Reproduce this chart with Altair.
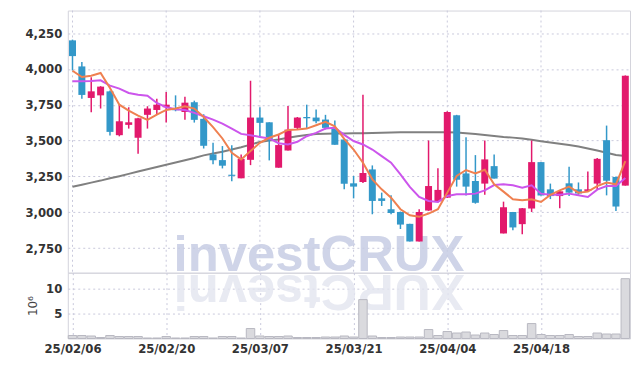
import altair as alt
import pandas as pd

# ---- data ----
dates = ["25/02/06","25/02/07","25/02/10","25/02/11","25/02/12","25/02/13","25/02/14","25/02/17","25/02/18","25/02/19",
         "25/02/20","25/02/21","25/02/24","25/02/25","25/02/26","25/02/27","25/02/28","25/03/04","25/03/05","25/03/06",
         "25/03/07","25/03/10","25/03/11","25/03/12","25/03/13","25/03/14","25/03/17","25/03/18","25/03/19","25/03/20",
         "25/03/21","25/03/24","25/03/25","25/03/26","25/03/27","25/03/28","25/03/31","25/04/01","25/04/02","25/04/03",
         "25/04/04","25/04/07","25/04/08","25/04/09","25/04/10","25/04/11","25/04/14","25/04/15","25/04/16","25/04/17",
         "25/04/18","25/04/21","25/04/22","25/04/23","25/04/24","25/04/25","25/04/28","25/04/29","25/04/30","25/05/02"]

open_ = [4200, 4018, 3798, 3816, 3844, 3538, 3610, 3520, 3680, 3714,
         3733, 3724, 3700, 3768, 3652, 3404, 3364, 3262, 3237, 3366,
         3661, 3628, 3311, 3431, 3589, 3665, 3661, 3647, 3582, 3508,
         3202, 3211, 3299, 3097, 3021, 3002, 2919, 2796, 3012, 3077,
         3102, 3677, 3271, 3218, 3200, 3322, 2852, 3002, 2917, 3026,
         3350, 3160, 3113, 3202, 3160, 3149, 3200, 3503, 3246, 3186]
high = [4205, 4048, 3942, 3880, 3850, 3750, 3733, 3660, 3740, 3793,
        3840, 3816, 3807, 3779, 3684, 3485, 3462, 3468, 3404, 3918,
        3733, 3628, 3547, 3742, 3665, 3751, 3717, 3680, 3640, 3510,
        3253, 3821, 3327, 3137, 3118, 3005, 2919, 3021, 3501, 3308,
        3705, 3680, 3524, 3399, 3501, 3404, 3074, 3002, 3030, 3501,
        3350, 3200, 3150, 3317, 3208, 3285, 3378, 3605, 3250, 3955]
low = [3990, 3793, 3698, 3724, 3536, 3530, 3584, 3408, 3584, 3683,
       3626, 3705, 3645, 3626, 3445, 3335, 3306, 3216, 3237, 3329,
       3524, 3362, 3311, 3431, 3580, 3589, 3621, 3578, 3471, 3160,
       3097, 3204, 2986, 3044, 2986, 2883, 2796, 2796, 3010, 3070,
       3100, 3179, 3117, 3060, 3122, 3235, 2852, 2875, 2847, 3002,
       3117, 3092, 3028, 3113, 3122, 3145, 3155, 3118, 3009, 3186]
close = [4090, 3819, 3844, 3877, 3561, 3635, 3628, 3656, 3724, 3751,
         3751, 3712, 3765, 3645, 3464, 3363, 3325, 3254, 3373, 3661,
         3624, 3503, 3469, 3577, 3661, 3656, 3635, 3589, 3471, 3199,
         3179, 3274, 3079, 3079, 2995, 2914, 2796, 3002, 3183, 3156,
         3700, 3227, 3179, 3066, 3369, 3235, 3035, 2894, 3028, 3350,
         3117, 3113, 3146, 3137, 3131, 3160, 3373, 3220, 3040, 3953]

ma_short = [3988, 3944, 3953, 3972, 3867, 3751, 3710, 3675, 3645, 3682,
            3714, 3724, 3740, 3724, 3665, 3594, 3515, 3415, 3369, 3427,
            3485, 3520, 3543, 3575, 3577, 3584, 3607, 3631, 3600, 3512,
            3438, 3346, 3230, 3160, 3102, 3021, 2979, 2968, 2991, 3021,
            3137, 3253, 3295, 3271, 3297, 3195, 3144, 3091, 3084, 3091,
            3072, 3121, 3153, 3179, 3137, 3144, 3183, 3207, 3195, 3357]
ma_mid = [3914, 3914, 3916, 3921, 3884, 3863, 3833, 3821, 3814, 3763,
          3733, 3719, 3714, 3694, 3670, 3647, 3619, 3584, 3547, 3538,
          3526, 3515, 3482, 3473, 3492, 3531, 3554, 3584, 3589, 3540,
          3497, 3473, 3438, 3392, 3346, 3265, 3177, 3107, 3079, 3072,
          3114, 3125, 3125, 3130, 3153, 3190, 3195, 3188, 3172, 3188,
          3130, 3123, 3123, 3130, 3118, 3107, 3158, 3183, 3183, 3239]
ma_long = [3178, 3192, 3207, 3221, 3237, 3252, 3268, 3284, 3300, 3316,
           3331, 3347, 3363, 3379, 3397, 3410, 3422, 3438, 3454, 3472,
           3491, 3500, 3508, 3520, 3531, 3539, 3547, 3548, 3549, 3550,
           3551, 3552, 3554, 3555, 3557, 3558, 3559, 3559, 3559, 3559,
           3559, 3556, 3552, 3546, 3540, 3533, 3526, 3521, 3515, 3506,
           3496, 3487, 3478, 3469, 3459, 3445, 3431, 3415, 3400, 3392]

volume = [0.6, 0.6, 0.5, 0.2, 0.6, 0.4, 0.4, 0.4, 0.1, 0.1,
          0.4, 0.1, 0.1, 0.4, 0.4, 0.1, 0.4, 0.4, 0.1, 2.0,
          0.5, 0.4, 0.4, 0.5, 0.2, 0.2, 0.2, 0.3, 0.3, 0.5,
          0.3, 7.8, 0.5, 0.2, 0.2, 0.3, 0.3, 0.3, 1.8, 0.6,
          1.4, 1.1, 1.3, 0.7, 1.1, 0.8, 1.6, 0.6, 0.6, 3.0,
          0.8, 0.6, 0.6, 0.8, 0.4, 0.4, 1.1, 0.9, 0.9, 12.0]

tick_idx = [0, 10, 20, 30, 40, 50]
price_ticks = [2750, 3000, 3250, 3500, 3750, 4000, 4250]
volume_ticks = [5, 10]
watermark = "investCRUX"

# ---- styles ----
PINK = "#e2196c"
BLUE = "#3398c9"
FONT = "DejaVu Sans Condensed"
GRID = "#c9c9dc"
YEXT = 42

n = len(dates)
df = pd.DataFrame({
    "i": list(range(n)), "date": dates,
    "open": open_, "high": high, "low": low, "close": close,
    "ma_short": ma_short, "ma_mid": ma_mid, "ma_long": ma_long,
    "volume": volume,
})
df["dir"] = ["up" if c >= o else "down" for o, c in zip(open_, close)]
ticks_df = pd.DataFrame({"i": tick_idx})

tick_labels = [dates[k] for k in tick_idx]
label_expr = "[" + ",".join("'%s'" % t for t in tick_labels) + "][round(datum.value/10)]"

xscale = alt.Scale(domain=[-0.5, n - 0.5], nice=False, zero=False, padding=0)
x_price = alt.X("i:Q", scale=xscale, axis=None)
x_vol = alt.X("i:Q", scale=xscale, axis=alt.Axis(values=tick_idx, labelExpr=label_expr, ticks=False,
                                                   domain=False, title=None, grid=True, labelPadding=4,
                                                   labelFont=FONT, labelFontSize=13, labelFontWeight="bold",
                                                   labelColor="#333333", labelFlush=False))

yscale = alt.Scale(domain=[2578, 4408], nice=False, zero=False, padding=0)
yaxis = alt.Axis(values=price_ticks, labelExpr="format(datum.value, ',')", title=None, ticks=False,
                 domain=False, labelPadding=6, labelFont=FONT, labelFontSize=13, labelFontWeight="bold",
                 labelColor="#333333", minExtent=YEXT, maxExtent=YEXT)

color = alt.Color("dir:N", scale=alt.Scale(domain=["up", "down"], range=[PINK, BLUE]), legend=None)

base = alt.Chart(df)

vgrid = alt.Chart(ticks_df).mark_rule(color=GRID, strokeDash=[2, 3], strokeWidth=1).encode(x=x_price)

wm = alt.Chart(pd.DataFrame({"t": [watermark]})).mark_text(
    font="Liberation Sans", fontSize=51, fontWeight="bold",
    color="#c7cde4", align="center", baseline="alphabetic", opacity=0.85
).encode(x=alt.value(252), y=alt.value(261), text="t:N")

wicks = base.mark_rule(strokeWidth=1.5).encode(
    x=x_price, y=alt.Y("low:Q", scale=yscale, axis=yaxis), y2="high:Q", color=color)
bodies = base.mark_bar(size=7).encode(
    x=x_price, y=alt.Y("open:Q", scale=yscale, axis=yaxis), y2="close:Q", color=color)

line_long = base.mark_line(color="#808080", strokeWidth=2).encode(
    x=x_price, y=alt.Y("ma_long:Q", scale=yscale, axis=yaxis))
line_mid = base.mark_line(color="#cc55ec", strokeWidth=2).encode(
    x=x_price, y=alt.Y("ma_mid:Q", scale=yscale, axis=yaxis))
line_short = base.mark_line(color="#ef8050", strokeWidth=2).encode(
    x=x_price, y=alt.Y("ma_short:Q", scale=yscale, axis=yaxis))

price = alt.layer(vgrid, wm, line_long, wicks, bodies, line_mid, line_short).properties(width=564, height=263)

# reflection of the watermark in the volume panel
wm_ref = alt.Chart(pd.DataFrame({"t": [watermark[::-1]]})).mark_text(
    font="Liberation Sans", fontSize=51, fontWeight="bold",
    color="#e3e5f0", align="center", baseline="alphabetic", angle=180, opacity=0.8
).encode(x=alt.value(252), y=alt.value(2), text="t:N")

vbars = base.mark_bar(size=8.5, color="#dadade", stroke="#b9b9c2", strokeWidth=1).encode(
    x=x_vol,
    y=alt.Y("volume:Q", scale=alt.Scale(domain=[0, 13.2], nice=False),
            axis=alt.Axis(values=volume_ticks, title="10⁶", ticks=False, domain=False,
                          labelPadding=6, labelFont=FONT, labelFontSize=13, labelFontWeight="bold",
                          labelColor="#333333", titleFont="DejaVu Sans", titleFontSize=12,
                          titleFontWeight="normal", titleColor="#444444", titlePadding=6,
                          minExtent=YEXT - 20, maxExtent=YEXT - 20)),
)
vol = alt.layer(wm_ref, vbars).properties(width=564, height=66)

chart = alt.vconcat(price, vol, spacing=0, bounds="flush").configure(
    padding={"left": 16, "top": 1, "right": 0, "bottom": 0},
).configure_view(stroke="#d4d4dc", strokeWidth=1).configure_axis(
    gridColor=GRID, gridDash=[2, 3], gridWidth=1
)

chart.save("out.html", embed_options={"renderer": "svg", "actions": False})
